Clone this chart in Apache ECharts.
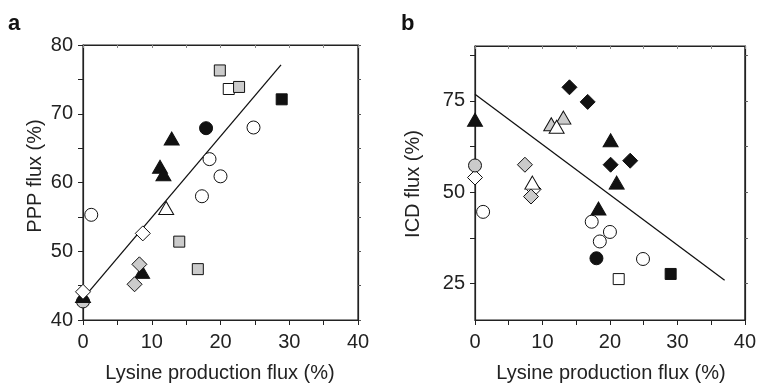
<!DOCTYPE html>
<html>
<head>
<meta charset="utf-8">
<script src="https://cdn.jsdelivr.net/npm/echarts@6/dist/echarts.min.js"></script>
<style>
  html, body { margin: 0; padding: 0; background: #fff; }
  #chart { width: 759px; height: 385px; }
</style>
</head>
<body>
<div id="chart"></div>
<script>
// axis ticks / labels
const xLabelVals = [0, 10, 20, 30, 40];
const xTickVals  = [0, 5, 10, 15, 20, 25, 30, 35, 40];
const aYLabelVals = [40, 50, 60, 70, 80];
const aYTickVals  = [40, 45, 50, 55, 60, 65, 70, 75, 80];
const bYLabelVals = [25, 50, 75];
const bYTickVals  = [25, 37.5, 50, 62.5, 75, 87.5];

// panel a: PPP flux vs lysine production flux
const aWhiteCircle  = [[1.2, 55.3], [24.8, 68.0], [18.4, 63.4], [20.0, 60.9], [17.3, 58.0]];
const aGrayCircle   = [[0, 42.7]];
const aBlackCircle  = [[17.9, 67.9]];
const aWhiteSquare  = [[21.2, 73.6]];
const aGraySquare   = [[19.9, 76.3], [22.7, 73.9], [14.0, 51.4], [16.7, 47.4]];
const aBlackSquare  = [[28.9, 72.1]];
const aWhiteTri     = [[12.1, 56.3]];
const aBlackTri     = [[12.9, 66.4], [11.2, 62.3], [11.7, 61.2], [8.6, 47.0], [0, 43.5]];
const aWhiteDiamond = [[8.7, 52.6], [0, 44.1]];
const aGrayDiamond  = [[8.2, 48.1], [7.5, 45.2]];
const aFit          = [[0, 43.1], [28.8, 77.1]];

// panel b: ICD flux vs lysine production flux
const bWhiteCircle  = [[1.2, 44.6], [17.3, 41.9], [20.0, 39.1], [18.5, 36.5], [24.9, 31.7]];
const bGrayCircle   = [[0, 57.3]];
const bBlackCircle  = [[18.0, 31.9]];
const bWhiteSquare  = [[21.3, 26.2]];
const bBlackSquare  = [[29.0, 27.6]];
const bWhiteTri     = [[12.1, 67.9], [8.5, 52.6]];
const bGrayTri      = [[11.3, 68.6], [13.1, 70.4]];
const bBlackTri     = [[0, 69.8], [20.1, 64.2], [21.0, 52.6], [18.3, 45.5]];
const bWhiteDiamond = [[0, 54.0], [8.7, 50.8]];
const bGrayDiamond  = [[7.4, 57.5], [8.3, 48.8]];
const bBlackDiamond = [[14.0, 78.7], [16.7, 74.7], [20.1, 57.5], [23.0, 58.6]];
const bFit          = [[0, 76.8], [37, 25.9]];

const FONT = 'Liberation Sans, Arial, sans-serif';
const GRAY = '#cbcbcb';
const SHAPE = {
  circle:  { symbol: 'circle',   size: 13 },
  square:  { symbol: 'rect',     size: 11 },
  tri:     { symbol: 'triangle', size: [15, 13] },
  diamond: { symbol: 'diamond',  size: 15 },
};
const FILL = { white: '#ffffff', gray: GRAY, black: '#111111' };

function pts(data, shape, fill, idx) {
  return {
    type: 'scatter', xAxisIndex: idx, yAxisIndex: idx, data,
    symbol: SHAPE[shape].symbol, symbolSize: SHAPE[shape].size,
    itemStyle: { color: FILL[fill], borderColor: '#111', borderWidth: 1, opacity: 1 },
    z: 3, silent: true,
  };
}
function fit(data, idx) {
  return {
    type: 'line', xAxisIndex: idx, yAxisIndex: idx, data,
    showSymbol: false, lineStyle: { color: '#111', width: 1.3 }, z: 2, silent: true,
  };
}

function xAxes(idx) {
  return [
    { gridIndex: idx, type: 'value', min: 0, max: 40, position: 'bottom',
      axisLine: { onZero: false, lineStyle: { color: '#222', width: 1.2 } },
      axisTick: { customValues: xTickVals, length: 5, lineStyle: { color: '#222' } },
      axisLabel: { customValues: xLabelVals, color: '#222', fontSize: 20, fontFamily: FONT, margin: 12 },
      splitLine: { show: false } },
    { gridIndex: idx, type: 'value', min: 0, max: 40, position: 'top',
      axisLine: { onZero: false, lineStyle: { color: '#222', width: 1.2 } },
      axisTick: { customValues: xTickVals, inside: true, length: 3, lineStyle: { color: '#888' } },
      axisLabel: { show: false }, splitLine: { show: false } },
  ];
}
function yAxes(idx, min, max, ticks, labels) {
  return [
    { gridIndex: idx, type: 'value', min, max, position: 'left',
      axisLine: { show: true, onZero: false, lineStyle: { color: '#222', width: 1.2 } },
      axisTick: { show: true, customValues: ticks, length: 5, lineStyle: { color: '#222' } },
      axisLabel: { customValues: labels, color: '#222', fontSize: 20, fontFamily: FONT, margin: 10 },
      splitLine: { show: false } },
    { gridIndex: idx, type: 'value', min, max, position: 'right',
      axisLine: { show: true, onZero: false, lineStyle: { color: '#222', width: 1.2 } },
      axisTick: { show: true, customValues: ticks, length: 3, lineStyle: { color: '#555' } },
      axisLabel: { show: false }, splitLine: { show: false } },
  ];
}

const gridBox = { show: true, borderColor: '#222', borderWidth: 1.2, backgroundColor: 'transparent' };

const chart = echarts.init(document.getElementById('chart'), null, { renderer: 'canvas' });
chart.setOption({
  backgroundColor: '#ffffff',
  animation: false,
  grid: [
    { ...gridBox, left: 83, top: 45, width: 275, height: 275 },
    { ...gridBox, left: 475, top: 46, width: 272, height: 274 },
  ],
  xAxis: [...xAxes(0), ...xAxes(1)],
  yAxis: [...yAxes(0, 40, 80, aYTickVals, aYLabelVals), ...yAxes(1, 15, 90, bYTickVals, bYLabelVals)],
  series: [
    fit(aFit, 0),
    pts(aGrayCircle, 'circle', 'gray', 0),
    pts(aBlackTri, 'tri', 'black', 0),
    pts(aWhiteDiamond, 'diamond', 'white', 0),
    pts(aGrayDiamond, 'diamond', 'gray', 0),
    pts(aWhiteCircle, 'circle', 'white', 0),
    pts(aBlackCircle, 'circle', 'black', 0),
    pts(aWhiteSquare, 'square', 'white', 0),
    pts(aGraySquare, 'square', 'gray', 0),
    pts(aBlackSquare, 'square', 'black', 0),
    pts(aWhiteTri, 'tri', 'white', 0),

    fit(bFit, 2),
    pts(bWhiteDiamond, 'diamond', 'white', 2),
    pts(bGrayCircle, 'circle', 'gray', 2),
    pts(bGrayDiamond, 'diamond', 'gray', 2),
    pts(bGrayTri, 'tri', 'gray', 2),
    pts(bWhiteTri, 'tri', 'white', 2),
    pts(bBlackTri, 'tri', 'black', 2),
    pts(bBlackDiamond, 'diamond', 'black', 2),
    pts(bWhiteCircle, 'circle', 'white', 2),
    pts(bBlackCircle, 'circle', 'black', 2),
    pts(bWhiteSquare, 'square', 'white', 2),
    pts(bBlackSquare, 'square', 'black', 2),
  ],
  graphic: [
    { type: 'text', x: 8, y: 24, style: { text: 'a', font: 'bold 22px ' + FONT, fill: '#111', verticalAlign: 'middle' } },
    { type: 'text', x: 401, y: 24, style: { text: 'b', font: 'bold 22px ' + FONT, fill: '#111', verticalAlign: 'middle' } },
    { type: 'text', x: 35, y: 176, rotation: Math.PI / 2,
      style: { text: 'PPP flux (%)', font: '20px ' + FONT, fill: '#222', align: 'center', verticalAlign: 'middle' } },
    { type: 'text', x: 413, y: 184, rotation: Math.PI / 2,
      style: { text: 'ICD flux (%)', font: '20px ' + FONT, fill: '#222', align: 'center', verticalAlign: 'middle' } },
    { type: 'text', x: 220, y: 373,
      style: { text: 'Lysine production flux (%)', font: '20px ' + FONT, fill: '#222', align: 'center', verticalAlign: 'middle' } },
    { type: 'text', x: 611, y: 373,
      style: { text: 'Lysine production flux (%)', font: '20px ' + FONT, fill: '#222', align: 'center', verticalAlign: 'middle' } },
  ],
});
</script>
</body>
</html>
